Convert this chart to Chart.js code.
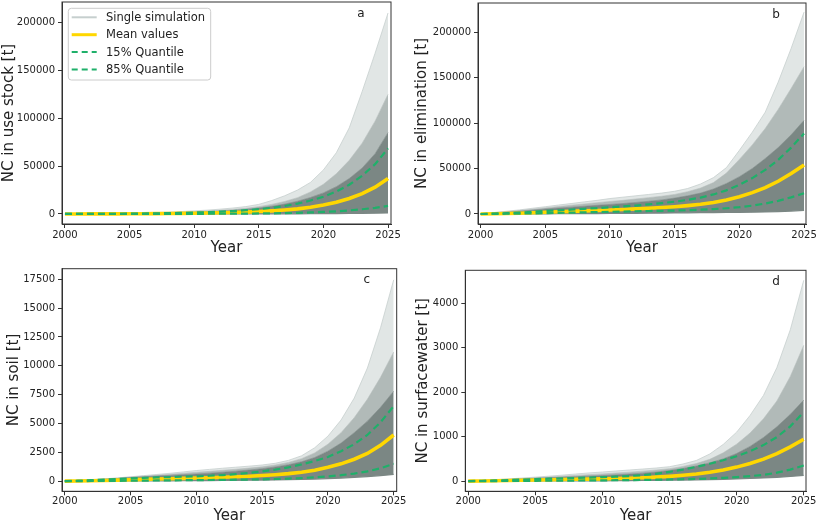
<!DOCTYPE html>
<html><head><meta charset="utf-8">
<script src="https://cdn.jsdelivr.net/npm/chart.js@4.4.1/dist/chart.umd.min.js"></script>
<style>
html,body{margin:0;padding:0;background:#fff;}
body{width:817px;height:524px;position:relative;overflow:hidden;}
.p{position:absolute;}
</style></head><body>
<div class="p" style="left:0;top:0;width:410px;height:262px"><canvas id="ca"></canvas></div>
<div class="p" style="left:410px;top:0;width:407px;height:262px"><canvas id="cb"></canvas></div>
<div class="p" style="left:0;top:262px;width:410px;height:262px"><canvas id="cc"></canvas></div>
<div class="p" style="left:410px;top:262px;width:407px;height:262px"><canvas id="cd"></canvas></div>
<script>
// ---------------- data ----------------
const years = [2000,2001,2002,2003,2004,2005,2006,2007,2008,2009,2010,2011,2012,2013,2014,2015,2016,2017,2018,2019,2020,2021,2022,2023,2024,2025];
const xTicks = [2000,2005,2010,2015,2020,2025];

// panel a: NC in use stock
const aMin   = [0,0,1,2,3,5,7,10,14,19,25,32,40,50,65,80,100,130,170,220,290,380,500,650,850,1100];
const aQ15   = [0,2,6,12,20,30,45,65,85,110,150,190,240,300,390,500,650,850,1150,1550,2100,2800,3700,4900,6400,8400];
const aMean  = [0,10,30,60,100,150,220,320,450,600,800,1000,1250,1550,1950,2500,3200,4100,5300,7000,9300,12300,16200,21300,28000,37000];
const aQ85   = [0,20,60,120,200,300,430,600,850,1150,1500,1900,2400,3000,3900,5000,6400,8300,10800,14000,18000,23500,30500,40000,52000,68500];
const aDense = [0,25,70,140,240,360,500,700,950,1300,1750,2200,2800,3600,4700,6200,8000,10300,13300,17200,22000,28500,37000,48000,63000,85000];
const aMid   = [0,35,100,200,340,500,700,950,1300,1750,2350,3000,3800,4700,5900,7600,10000,13000,17000,23000,31000,42000,56000,74000,97000,125000];
const aMax   = [0,50,150,300,500,750,1000,1400,1900,2500,3200,4000,5000,6200,7700,10000,14000,19000,25000,33000,46000,64000,90000,128000,168000,210000];
const aYTicks = [0,50000,100000,150000,200000];

// panel b: NC in elimination
const bMin   = [0,20,50,90,140,200,260,330,400,480,560,650,750,860,980,1100,1250,1400,1550,1700,1850,2000,2300,2700,3200,4000];
const bQ15   = [0,100,250,450,700,950,1200,1500,1800,2100,2400,2700,3000,3300,3500,3800,4200,4700,5400,6300,7500,9200,11500,14500,18300,22800];
const bMean  = [0,200,500,900,1400,1900,2400,2900,3400,3900,4400,5000,5600,6300,7100,8000,9200,10700,12700,15400,19000,23500,29000,36000,44500,54000];
const bQ85   = [0,400,900,1500,2300,3300,4000,4800,5700,6500,7400,8300,9300,10600,12000,13500,15500,18000,21500,26000,32000,39500,48500,59500,73000,88500];
const bDense = [0,900,1900,3000,4200,5500,6500,7500,8500,9500,10500,11500,12700,14000,15500,17500,20000,23000,27500,33500,41000,50000,61000,73000,87000,103000];
const bMid   = [0,1200,2500,3800,5200,6700,8200,9600,11000,12400,13800,15000,16500,18000,19500,21500,24500,28500,34500,45000,60000,76000,94000,115000,138000,162000];
const bMax   = [0,1500,3000,4500,6300,8000,9800,11500,13300,15000,17000,18500,20000,21500,23000,25000,28000,33000,40000,51000,70000,90000,112000,145000,182000,222000];
const bYTicks = [0,50000,100000,150000,200000];

// panel c: NC in soil
const cMin   = [0,2,5,8,12,16,20,25,30,36,42,50,58,67,78,90,105,125,150,180,220,270,330,400,480,580];
const cQ15   = [0,5,12,20,30,40,50,60,70,80,90,100,110,125,140,160,185,220,270,330,410,520,660,850,1120,1500];
const cMean  = [0,15,35,60,90,120,150,180,210,240,270,300,340,380,430,490,560,650,770,940,1200,1500,1900,2400,3100,4000];
const cQ85   = [0,40,85,135,185,235,280,320,355,385,420,470,530,610,710,840,1000,1200,1450,1750,2100,2600,3200,4000,5100,6500];
const cDense = [0,50,100,160,230,310,380,440,500,560,620,690,770,860,960,1080,1230,1420,1680,2050,2600,3300,4200,5200,6400,7800];
const cMid   = [0,55,115,180,255,345,430,510,590,680,770,850,940,1030,1130,1240,1400,1620,1950,2450,3200,4200,5500,7100,9000,11200];
const cMax   = [0,60,130,200,280,380,480,580,680,800,920,1020,1120,1210,1300,1400,1550,1800,2200,2900,3900,5300,7200,9800,13300,17450];
const cYTicks = [0,2500,5000,7500,10000,12500,15000,17500];

// panel d: NC in surfacewater
const dMin   = [0,0,1,1,2,3,4,5,6,7,8,10,12,14,17,20,24,29,35,42,50,60,72,86,105,130];
const dQ15   = [0,1,2,4,6,8,10,12,14,16,18,21,24,28,32,37,43,51,61,74,90,112,140,190,260,350];
const dMean  = [0,4,9,14,20,26,31,36,41,46,52,58,66,76,90,108,132,162,200,250,315,395,495,620,770,940];
const dQ85   = [0,8,16,25,35,45,55,63,72,81,90,100,115,135,165,210,260,320,390,470,560,670,810,990,1230,1550];
const dDense = [0,10,22,35,48,62,75,87,100,112,125,140,158,180,205,240,285,340,410,500,620,780,980,1220,1500,1820];
const dMid   = [0,12,26,42,58,75,92,110,128,146,163,182,202,225,250,280,330,395,490,635,830,1080,1400,1800,2350,3050];
const dMax   = [0,15,32,50,70,90,112,135,160,185,205,228,250,272,295,325,385,465,610,825,1100,1475,1925,2550,3400,4510];
const dYTicks = [0,1000,2000,3000,4000];

const legendLabels = ['Single simulation','Mean values','15% Quantile','85% Quantile'];

// ---------------- style ----------------
const FONT = 'DejaVu Sans';
Chart.defaults.font.family = FONT;
Chart.defaults.animation = false;
const COL = {
  light: '#e1e6e5', lightLine: '#c6cfce', mid: '#b1bab8', dense: '#7b8784',
  mean: '#FFD700', green: '#1fb06a', axis: '#333333', text: '#222222'
};

const panels = [
  {id:'ca', letter:'a', title:'NC in use stock [t]', d:[aMax,aMid,aDense,aMin,aMean,aQ15,aQ85], yTicks:aYTicks,
   yLim:[-10500,221500], xLim:[1999.77,2025.23], yWidth:62, xHeight:31.5, pad:{top:2,right:19,bottom:6.5,left:0}, titlePad:1.5, xTickPad:1, legend:true},
  {id:'cb', letter:'b', title:'NC in elimination [t]', d:[bMax,bMid,bDense,bMin,bMean,bQ15,bQ85], yTicks:bYTicks,
   yLim:[-11000,232000], xLim:[1999.8,2025.15], yWidth:68, xHeight:31.5, pad:{top:3,right:11,bottom:6.5,left:0}, titlePad:5, xTickPad:1, legend:false},
  {id:'cc', letter:'c', title:'NC in soil [t]', d:[cMax,cMid,cDense,cMin,cMean,cQ15,cQ85], yTicks:cYTicks,
   yLim:[-880,18420], xLim:[1999.79,2025.23], yWidth:62, xHeight:32.7, pad:{top:6.7,right:13.3,bottom:0,left:0}, titlePad:6.5, xTickPad:0, legend:false},
  {id:'cd', letter:'d', title:'NC in surfacewater [t]', d:[dMax,dMid,dDense,dMin,dMean,dQ15,dQ85], yTicks:dYTicks,
   yLim:[-228,4735], xLim:[1999.78,2025.17], yWidth:55.3, xHeight:32.7, pad:{top:8.3,right:11,bottom:0,left:0}, titlePad:5.5, xTickPad:0, legend:false}
];

function pts(arr){ return years.map((y,i)=>({x:y, y:arr[i]})); }

function build(p){
  const [mx, md, dn, mn, me, q15, q85] = p.d;
  const datasets = [
    {label:'max',   data:pts(mx), fill:'+1', backgroundColor:COL.light, borderColor:COL.lightLine, borderWidth:0.8, order:10},
    {label:'mid',   data:pts(md), fill:'+1', backgroundColor:COL.mid,   borderColor:COL.mid,   borderWidth:0.6, order:9},
    {label:'dense', data:pts(dn), fill:'+1', backgroundColor:COL.dense, borderColor:COL.dense, borderWidth:0.6, order:8},
    {label:'min',   data:pts(mn), fill:false, borderColor:COL.dense, borderWidth:1.2, order:7},
    {label:legendLabels[1], data:pts(me),  fill:false, borderColor:COL.mean,  borderWidth:3.6, order:2},
    {label:legendLabels[2], data:pts(q15), fill:false, borderColor:COL.green, borderWidth:2.2, borderDash:[7,4], order:1},
    {label:legendLabels[3], data:pts(q85), fill:false, borderColor:COL.green, borderWidth:2.2, borderDash:[7,4], order:1}
  ];
  datasets.forEach(ds=>{ ds.pointRadius=0; ds.tension=0; });

  const decor = {
    id:'decor'+p.letter,
    afterDatasetsDraw(chart){
      const {ctx, chartArea:a} = chart;
      ctx.save();
      ctx.strokeStyle = COL.axis; ctx.lineWidth = 1;
      ctx.strokeRect(a.left, a.top, a.right-a.left, a.bottom-a.top);
      ctx.fillStyle = COL.text;
      ctx.font = '12px "'+FONT+'"';
      ctx.textAlign = 'center'; ctx.textBaseline = 'middle';
      ctx.fillText(p.letter, a.right-30, a.top+11.5);
      if (p.legend){
        const bx = a.left+6.3, by = a.top+6.3, bw = 142.4, bh = 71.7, r = 3;
        ctx.beginPath();
        ctx.moveTo(bx+r,by); ctx.lineTo(bx+bw-r,by); ctx.quadraticCurveTo(bx+bw,by,bx+bw,by+r);
        ctx.lineTo(bx+bw,by+bh-r); ctx.quadraticCurveTo(bx+bw,by+bh,bx+bw-r,by+bh);
        ctx.lineTo(bx+r,by+bh); ctx.quadraticCurveTo(bx,by+bh,bx,by+bh-r);
        ctx.lineTo(bx,by+r); ctx.quadraticCurveTo(bx,by,bx+r,by); ctx.closePath();
        ctx.fillStyle = 'rgba(255,255,255,0.85)'; ctx.fill();
        ctx.strokeStyle = '#cccccc'; ctx.lineWidth = 1; ctx.stroke();
        const styles = [
          {c:COL.lightLine, w:2, dash:[]},
          {c:COL.mean, w:3, dash:[]},
          {c:COL.green, w:2, dash:[6,4]},
          {c:COL.green, w:2, dash:[6,4]}
        ];
        ctx.font = '11.5px "'+FONT+'"';
        ctx.textAlign = 'left';
        legendLabels.forEach((t,i)=>{
          const yy = a.top + 15.3 + i*17.4;
          ctx.beginPath();
          ctx.setLineDash(styles[i].dash);
          ctx.strokeStyle = styles[i].c; ctx.lineWidth = styles[i].w;
          ctx.moveTo(a.left+9.7, yy); ctx.lineTo(a.left+34.7, yy); ctx.stroke();
          ctx.setLineDash([]);
          ctx.fillStyle = COL.text;
          ctx.fillText(t, a.left+44, yy+0.5);
        });
      }
      ctx.restore();
    }
  };

  new Chart(document.getElementById(p.id), {
    type:'line',
    data:{datasets},
    plugins:[decor],
    options:{
      responsive:true, maintainAspectRatio:false, animation:false,
      layout:{padding:p.pad},
      plugins:{legend:{display:false}, tooltip:{enabled:false}},
      scales:{
        x:{type:'linear', min:p.xLim[0], max:p.xLim[1],
           afterBuildTicks:s=>{ s.ticks = xTicks.map(v=>({value:v})); },
           afterFit:s=>{ s.height = p.xHeight; s.paddingLeft = 0; s.paddingRight = 0; },
           ticks:{font:{size:10}, color:COL.text, padding:p.xTickPad, maxRotation:0, autoSkip:false, callback:v=>String(v)},
           grid:{drawOnChartArea:false, drawTicks:true, tickLength:4, color:COL.axis},
           border:{display:true, color:COL.axis, width:1},
           title:{display:true, text:'Year', color:COL.text, font:{size:15, lineHeight:1}, padding:{top:0,bottom:0}}
        },
        y:{type:'linear', min:p.yLim[0], max:p.yLim[1],
           afterBuildTicks:s=>{ s.ticks = p.yTicks.map(v=>({value:v})); },
           afterFit:s=>{ s.width = p.yWidth; s.paddingTop = 0; s.paddingBottom = 0; },
           ticks:{font:{size:10}, color:COL.text, padding:3, callback:v=>String(v)},
           grid:{drawOnChartArea:false, drawTicks:true, tickLength:4, color:COL.axis},
           border:{display:true, color:COL.axis, width:1},
           title:{display:true, text:p.title, color:COL.text, font:{size:15, lineHeight:1}, padding:{top:p.titlePad,bottom:0}}
        }
      }
    }
  });
}
panels.forEach(build);
</script>
</body></html>
